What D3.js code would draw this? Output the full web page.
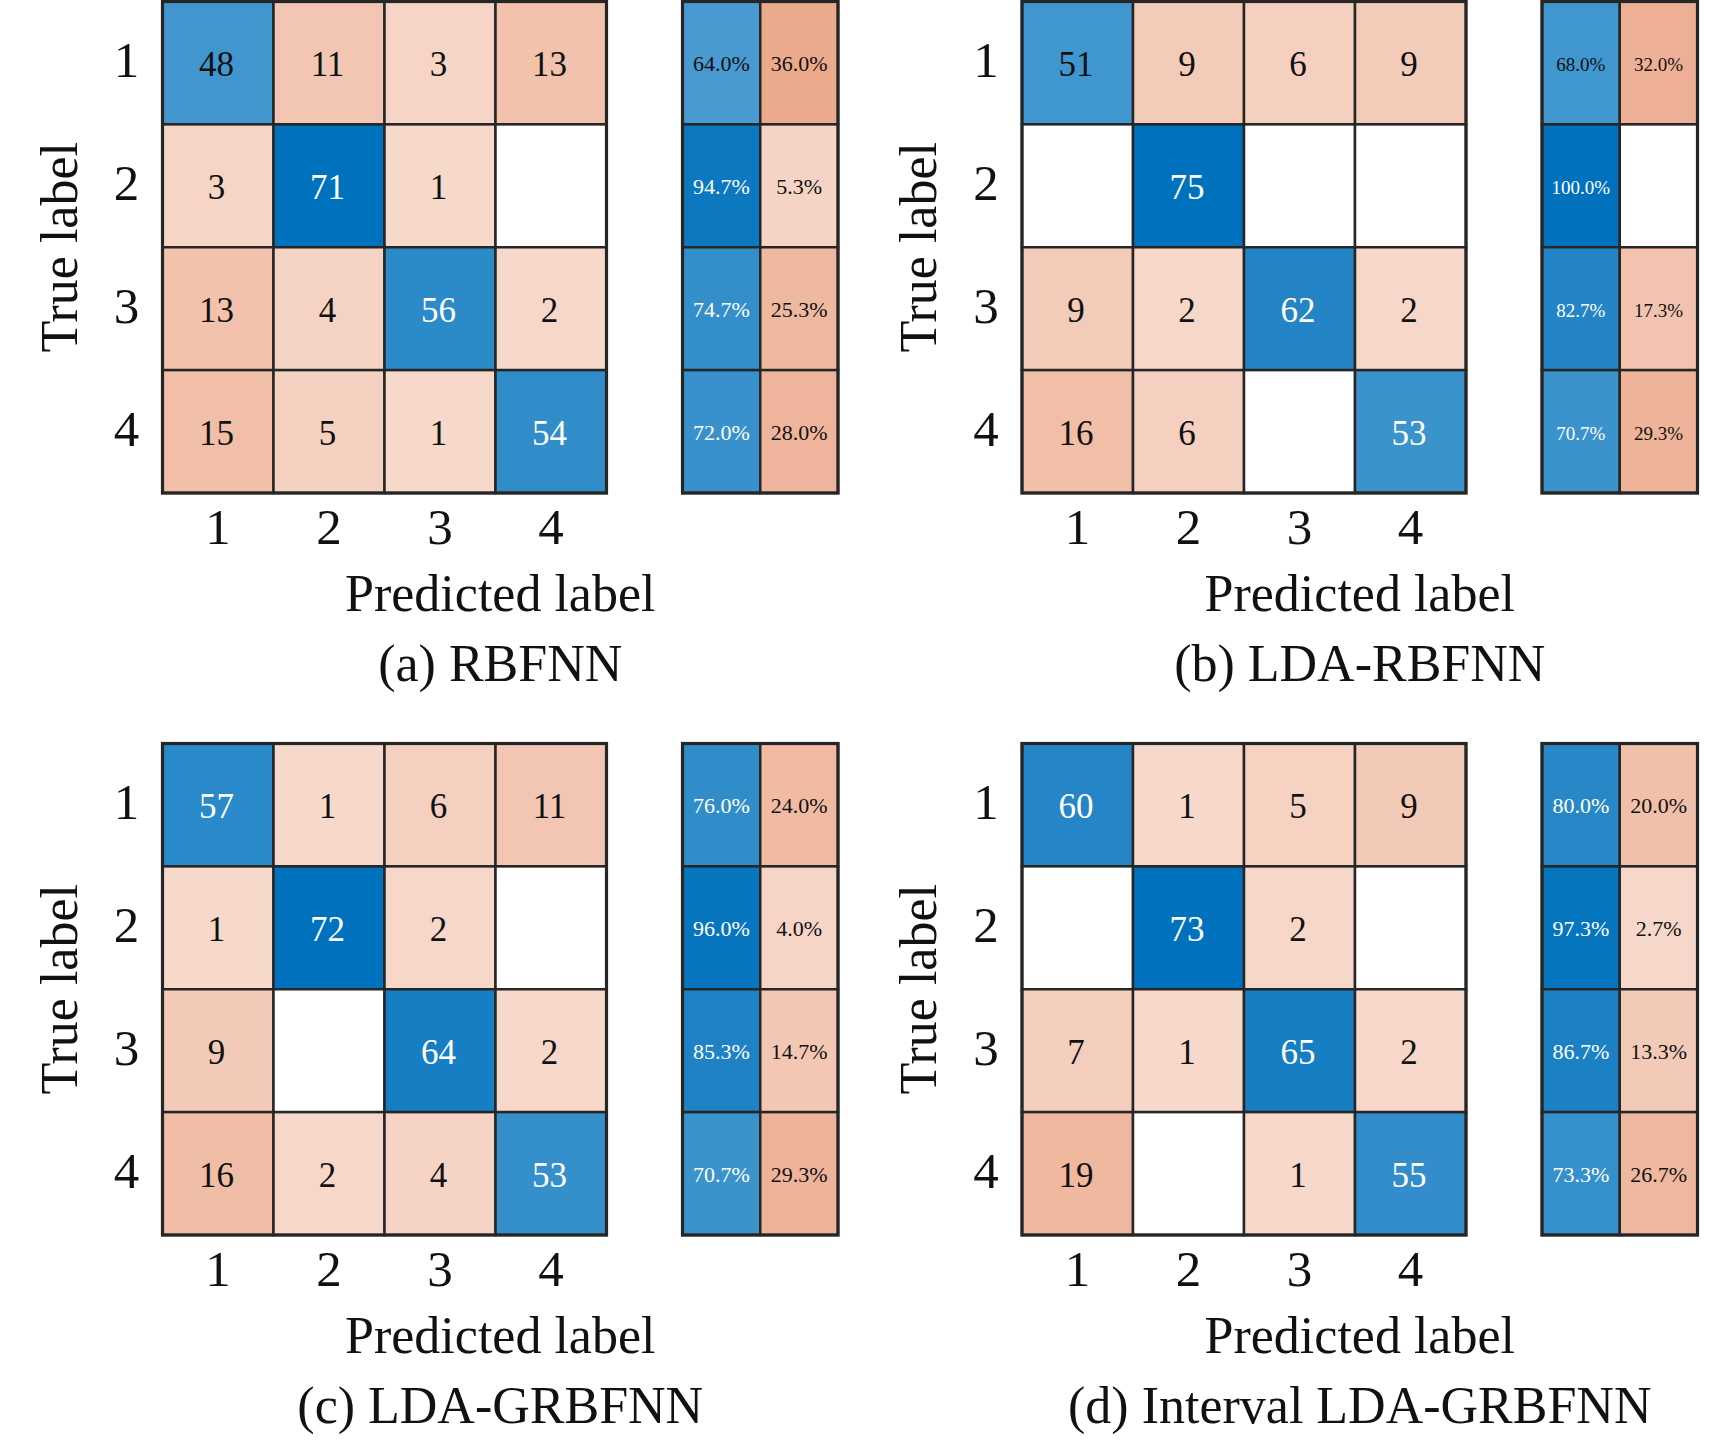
<!DOCTYPE html>
<html>
<head>
<meta charset="utf-8">
<script src="https://cdn.jsdelivr.net/npm/d3@7"></script>
<style>
  html, body { margin: 0; padding: 0; background: #ffffff; }
  svg { display: block; }
  text { font-family: "Liberation Serif", "Times New Roman", Times, serif; }
</style>
</head>
<body>
<svg id="chart" width="1732" height="1440"></svg>
<script>
// ---------------- data ----------------
const categories = ["1", "2", "3", "4"];
const summaryColumns = ["correct", "error"];
const titles = ["(a) RBFNN", "(b) LDA-RBFNN", "(c) LDA-GRBFNN", "(d) Interval LDA-GRBFNN"];

const cmRBFNN = [
  [48, 11, 3, 13],
  [3, 71, 1, 0],
  [13, 4, 56, 2],
  [15, 5, 1, 54]
];
const cmLDARBFNN = [
  [51, 9, 6, 9],
  [0, 75, 0, 0],
  [9, 2, 62, 2],
  [16, 6, 0, 53]
];
const cmLDAGRBFNN = [
  [57, 1, 6, 11],
  [1, 72, 2, 0],
  [9, 0, 64, 2],
  [16, 2, 4, 53]
];
const cmIntervalLDAGRBFNN = [
  [60, 1, 5, 9],
  [0, 73, 2, 0],
  [7, 1, 65, 2],
  [19, 0, 1, 55]
];

const correctRBFNN = [64.0, 94.7, 74.7, 72.0];
const errorRBFNN = [36.0, 5.3, 25.3, 28.0];
const correctLDARBFNN = [68.0, 100.0, 82.7, 70.7];
const errorLDARBFNN = [32.0, 0, 17.3, 29.3];
const correctLDAGRBFNN = [76.0, 96.0, 85.3, 70.7];
const errorLDAGRBFNN = [24.0, 4.0, 14.7, 29.3];
const correctInterval = [80.0, 97.3, 86.7, 73.3];
const errorInterval = [20.0, 2.7, 13.3, 26.7];

const matrices = [cmRBFNN, cmLDARBFNN, cmLDAGRBFNN, cmIntervalLDAGRBFNN];
const correctRates = [correctRBFNN, correctLDARBFNN, correctLDAGRBFNN, correctInterval];
const errorRates = [errorRBFNN, errorLDARBFNN, errorLDAGRBFNN, errorInterval];

// ---------------- layout / style ----------------
const diagColor = "#0072BD";
const offColor = "#D95319";
const lineColor = "#262626";
const minShade = 0.21;

const layout = [
  { x0: 162.5, y0: 1.5 },
  { x0: 1022, y0: 1.5 },
  { x0: 162.5, y0: 743.5 },
  { x0: 1022, y0: 743.5 }
];
const matW = 444, matH = 491.5;
const sumGap = 520, sumW = 155.5;

const svg = d3.select("#chart");

function shade(base, v, vmax) {
  if (v <= 0) return "#ffffff";
  const t = minShade + (1 - minShade) * (v / vmax);
  return d3.interpolateRgb("#ffffff", base)(t);
}
function textColorFor(fill) {
  const c = d3.rgb(fill);
  const lum = 0.2126 * c.r + 0.7152 * c.g + 0.0722 * c.b;
  return lum < 133.5 ? "#ffffff" : "#111111";
}

matrices.forEach((cm, p) => {
  const L = layout[p];
  const g = svg.append("g");
  const x = d3.scaleBand().domain(categories).range([L.x0, L.x0 + matW]);
  const y = d3.scaleBand().domain(categories).range([L.y0, L.y0 + matH]);
  const vmax = d3.max(cm.flat());

  const cells = [];
  cm.forEach((row, i) => row.forEach((v, j) => cells.push({ i, j, v })));

  const cg = g.selectAll("g.cell").data(cells).enter().append("g");
  cg.append("rect")
    .attr("x", d => x(categories[d.j]))
    .attr("y", d => y(categories[d.i]))
    .attr("width", x.bandwidth())
    .attr("height", y.bandwidth())
    .attr("fill", d => shade(d.i === d.j ? diagColor : offColor, d.v, vmax))
    .attr("stroke", lineColor)
    .attr("stroke-width", 2.5);
  cg.filter(d => d.v > 0).append("text")
    .attr("x", d => x(categories[d.j]) + x.bandwidth() / 2 - 1.5)
    .attr("y", d => y(categories[d.i]) + y.bandwidth() / 2 + 13)
    .attr("text-anchor", "middle")
    .attr("font-size", 35)
    .attr("fill", d => textColorFor(shade(d.i === d.j ? diagColor : offColor, d.v, vmax)))
    .text(d => d.v);

  g.append("rect")
    .attr("x", L.x0).attr("y", L.y0).attr("width", matW).attr("height", matH)
    .attr("fill", "none").attr("stroke", lineColor).attr("stroke-width", 3.2);

  // row summary
  const sx = d3.scaleBand().domain(summaryColumns).range([L.x0 + sumGap, L.x0 + sumGap + sumW]);
  const sumCells = [];
  categories.forEach((c, i) => {
    sumCells.push({ i, col: "correct", v: correctRates[p][i] });
    sumCells.push({ i, col: "error", v: errorRates[p][i] });
  });
  const labelStrings = sumCells.filter(d => d.v > 0).map(d => d.v.toFixed(1) + "%");
  const pctFont = d3.max(labelStrings, s => s.length) > 5 ? 19 : 22;

  const sg = g.selectAll("g.sum").data(sumCells).enter().append("g");
  sg.append("rect")
    .attr("x", d => sx(d.col))
    .attr("y", d => y(categories[d.i]))
    .attr("width", sx.bandwidth())
    .attr("height", y.bandwidth())
    .attr("fill", d => shade(d.col === "correct" ? diagColor : offColor, d.v, 100))
    .attr("stroke", lineColor)
    .attr("stroke-width", 2.5);
  sg.filter(d => d.v > 0).append("text")
    .attr("x", d => sx(d.col) + sx.bandwidth() / 2)
    .attr("y", d => y(categories[d.i]) + y.bandwidth() / 2 + 8)
    .attr("text-anchor", "middle")
    .attr("font-size", pctFont)
    .attr("fill", d => textColorFor(shade(d.col === "correct" ? diagColor : offColor, d.v, 100)))
    .text(d => d.v.toFixed(1) + "%");
  g.append("rect")
    .attr("x", L.x0 + sumGap).attr("y", L.y0).attr("width", sumW).attr("height", matH)
    .attr("fill", "none").attr("stroke", lineColor).attr("stroke-width", 3.2);

  // axes tick labels
  const xAxis = d3.axisBottom(x).tickSize(0).tickPadding(0);
  const xa = g.append("g").attr("transform", `translate(0,${L.y0 + matH})`).call(xAxis);
  xa.select(".domain").remove();
  xa.selectAll("text")
    .attr("y", 51).attr("dy", null)
    .attr("font-size", 51).attr("font-family", "Liberation Serif, Times New Roman, serif")
    .attr("fill", "#111");

  const yAxis = d3.axisLeft(y).tickSize(0).tickPadding(0);
  const ya = g.append("g").attr("transform", `translate(${L.x0},0)`).call(yAxis);
  ya.select(".domain").remove();
  ya.selectAll("text")
    .attr("x", -36).attr("dy", null).attr("y", 14)
    .attr("text-anchor", "middle")
    .attr("font-size", 51).attr("font-family", "Liberation Serif, Times New Roman, serif")
    .attr("fill", "#111");

  const cx = (L.x0 + L.x0 + sumGap + sumW) / 2;
  g.append("text")
    .attr("x", cx).attr("y", L.y0 + matH + 117.5)
    .attr("text-anchor", "middle").attr("font-size", 52).attr("fill", "#111")
    .text("Predicted label");
  g.append("text")
    .attr("x", cx).attr("y", L.y0 + matH + 188)
    .attr("text-anchor", "middle").attr("font-size", 52).attr("fill", "#111")
    .text(titles[p]);
  g.append("text")
    .attr("transform", `translate(${L.x0 - 86},${L.y0 + matH / 2}) rotate(-90)`)
    .attr("text-anchor", "middle").attr("font-size", 52).attr("fill", "#111")
    .text("True label");
});
</script>
</body>
</html>
